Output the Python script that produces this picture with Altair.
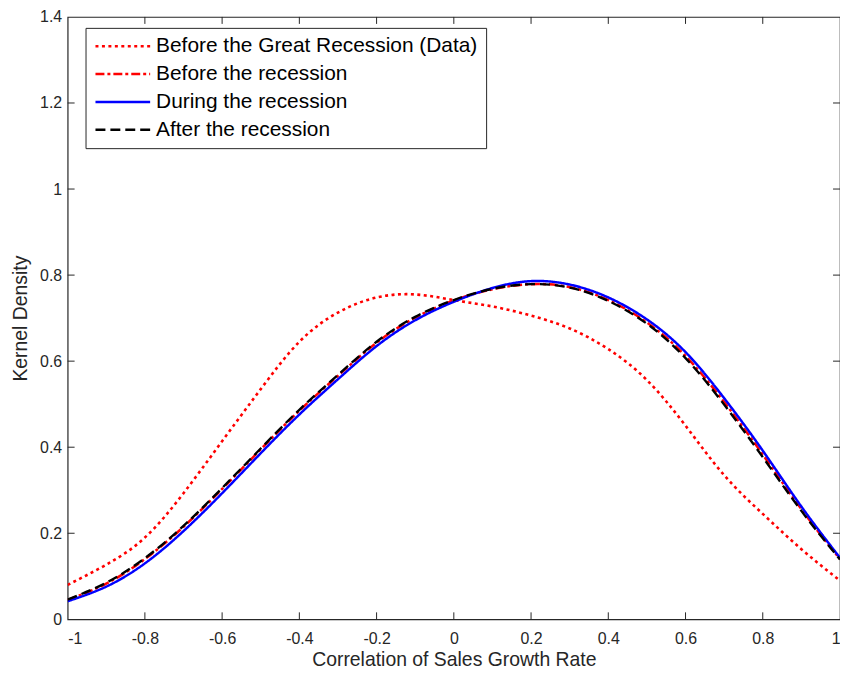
import altair as alt
import pandas as pd

# ---- data ----
x_vals = [-1.0, -0.9, -0.8, -0.7, -0.6, -0.5, -0.4, -0.3, -0.2, -0.1, 0.0,
          0.1, 0.2, 0.3, 0.4, 0.5, 0.6, 0.7, 0.8, 0.9, 1.0]

data_before_gr = [0.080, 0.127, 0.190, 0.293, 0.414, 0.535, 0.645, 0.713, 0.748, 0.755, 0.742,
                  0.727, 0.706, 0.676, 0.628, 0.556, 0.450, 0.335, 0.245, 0.163, 0.090]
before_rec = [0.045, 0.083, 0.140, 0.215, 0.303, 0.395, 0.485, 0.566, 0.643, 0.701, 0.741,
              0.767, 0.779, 0.772, 0.742, 0.690, 0.612, 0.505, 0.383, 0.256, 0.140]
during_rec = [0.042, 0.076, 0.130, 0.205, 0.293, 0.386, 0.476, 0.558, 0.635, 0.695, 0.738,
              0.770, 0.786, 0.778, 0.748, 0.697, 0.621, 0.514, 0.392, 0.262, 0.143]
after_rec = [0.046, 0.085, 0.142, 0.217, 0.305, 0.397, 0.487, 0.568, 0.645, 0.703, 0.742,
             0.768, 0.779, 0.771, 0.740, 0.687, 0.607, 0.499, 0.377, 0.252, 0.139]

series_names = ["Before the Great Recession (Data)", "Before the recession",
                "During the recession", "After the recession"]
series_values = [data_before_gr, before_rec, during_rec, after_rec]
series_colors = ["#FF0000", "#FF0000", "#0000FF", "#000000"]
series_dash = [[3, 3.5], [9, 3, 3, 3], [1, 0], [10, 5]]
series_width = [2.6, 2.4, 4.4, 3.0]

x_ticks = [-1.0, -0.8, -0.6, -0.4, -0.2, 0.0, 0.2, 0.4, 0.6, 0.8, 1.0]
y_ticks = [0.0, 0.2, 0.4, 0.6, 0.8, 1.0, 1.2, 1.4]

rows = []
for name, vals in zip(series_names, series_values):
    for xv, yv in zip(x_vals, vals):
        rows.append({"x": xv, "y": yv, "series": name})
df = pd.DataFrame(rows)

W, H = 777, 606
TICK = 7
AX = "#262626"
FONT = "Liberation Sans"

xscale = alt.Scale(domain=[-1, 1], nice=False, zero=False)
yscale = alt.Scale(domain=[0, 1.4], nice=False, zero=False)

x_axis = alt.Axis(values=x_ticks, labelExpr="toString(datum.value)",
                  title="Correlation of Sales Growth Rate",
                  labelPadding=11, titleBaseline="alphabetic", titleY=46)
y_axis = alt.Axis(values=y_ticks, labelExpr="toString(datum.value)",
                  title="Kernel Density", labelPadding=6,
                  titleAngle=270, titleBaseline="alphabetic", titleX=-41)

lines = alt.Chart(df).mark_line(interpolate="natural", clip=True).encode(
    x=alt.X("x:Q", scale=xscale, axis=x_axis),
    y=alt.Y("y:Q", scale=yscale, axis=y_axis),
    color=alt.Color("series:N", sort=series_names,
                    scale=alt.Scale(domain=series_names, range=series_colors),
                    legend=alt.Legend(title=None)),
    strokeDash=alt.StrokeDash("series:N", sort=series_names,
                              scale=alt.Scale(domain=series_names, range=series_dash),
                              legend=alt.Legend(title=None)),
    strokeWidth=alt.StrokeWidth("series:N", sort=series_names,
                                scale=alt.Scale(domain=series_names, range=series_width),
                                legend=alt.Legend(title=None)),
)

tick_x_df = pd.DataFrame({"x": x_ticks[1:-1]})
tick_y_df = pd.DataFrame({"y": y_ticks[1:-1]})

bottom_ticks = alt.Chart(tick_x_df).mark_rule(color=AX, strokeWidth=1).encode(
    x=alt.X("x:Q", scale=xscale, axis=x_axis), y=alt.value(H), y2=alt.value(H - TICK))
top_ticks = alt.Chart(tick_x_df).mark_rule(color=AX, strokeWidth=1).encode(
    x=alt.X("x:Q", scale=xscale, axis=x_axis), y=alt.value(0), y2=alt.value(TICK))
left_ticks = alt.Chart(tick_y_df).mark_rule(color=AX, strokeWidth=1).encode(
    y=alt.Y("y:Q", scale=yscale, axis=y_axis), x=alt.value(0), x2=alt.value(TICK))
right_ticks = alt.Chart(tick_y_df).mark_rule(color=AX, strokeWidth=1).encode(
    y=alt.Y("y:Q", scale=yscale, axis=y_axis), x=alt.value(W), x2=alt.value(W - TICK))

chart = alt.layer(lines, bottom_ticks, top_ticks, left_ticks, right_ticks).properties(
    width=W, height=H,
    autosize=alt.AutoSizeParams(type="none"),
    padding={"left": 60, "top": 7, "right": 0, "bottom": 48},
).configure_view(
    stroke=AX, strokeWidth=1.2
).configure_axis(
    domain=False, ticks=False, grid=False,
    labelFont=FONT, labelFontSize=16, labelColor=AX,
    titleFont=FONT, titleFontSize=19.5, titleColor=AX, titleFontWeight="normal",
).configure_legend(
    orient="none", legendX=18, legendY=11,
    fillColor="white", strokeColor=AX, padding=8,
    labelFont=FONT, labelFontSize=21, labelColor="#000000", labelLimit=0,
    symbolType="M-5,0H5", symbolSize=121, symbolOffset=19, labelOffset=23,
    symbolStrokeWidth=2.8,
    rowPadding=6, cornerRadius=0,
)

chart.save("out.html", embed_options={"renderer": "svg", "actions": False})
